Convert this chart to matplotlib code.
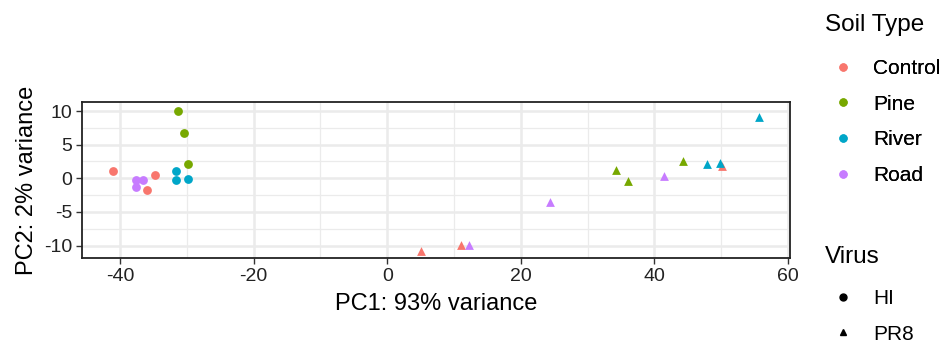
import numpy as np
import pandas as pd
import matplotlib.pyplot as plt
from matplotlib.lines import Line2D

plt.rcParams['font.family'] = ['Liberation Sans', 'DejaVu Sans']
plt.rcParams['axes.unicode_minus'] = False

# PCA scores
soil = ["Control", "Control", "Control", "Pine", "Pine", "Pine",
        "River", "River", "River", "Road", "Road", "Road",
        "Control", "Control", "Control", "Pine", "Pine", "Pine",
        "River", "River", "River", "Road", "Road", "Road"]
virus = ["HI"] * 12 + ["PR8"] * 12
pc1 = [-41.0, -34.8, -36.0, -31.4, -30.4, -29.9,
       -31.7, -31.7, -29.9, -37.6, -36.6, -37.6,
       5.1, 11.0, 50.1, 34.3, 36.1, 44.3,
       47.8, 49.8, 55.6, 12.2, 24.4, 41.4]
pc2 = [1.1, 0.45, -1.8, 9.95, 6.8, 2.1,
       1.1, -0.3, -0.1, -0.3, -0.3, -1.3,
       -10.8, -9.9, 1.8, 1.3, -0.35, 2.6,
       2.1, 2.3, 9.15, -9.9, -3.5, 0.4]

soil_levels = ["Control", "Pine", "River", "Road"]
soil_colors = ["#F8766D", "#77A800", "#00A6C8", "#C77CFF"]
virus_levels = ["HI", "PR8"]
virus_markers = ["o", "^"]

df = pd.DataFrame({"PC1": pc1, "PC2": pc2, "soil": soil, "virus": virus})

fig = plt.figure(figsize=(9.41, 3.46), dpi=100)
ax = fig.add_axes([82 / 941, 1 - 258 / 346, (790 - 82) / 941, (258 - 102) / 346])

for s, col in zip(soil_levels, soil_colors):
    for v, mk in zip(virus_levels, virus_markers):
        sub = df[(df.soil == s) & (df.virus == v)]
        ax.scatter(sub.PC1, sub.PC2, c=col, marker=mk, s=40, linewidths=0, zorder=3)

ax.set_xlim(-45.7, 60.3)
ax.set_ylim(-11.84, 11.34)
ax.set_xticks([-40, -20, 0, 20, 40, 60])
ax.set_xticks(np.arange(-30, 60, 20), minor=True)
ax.set_yticks([-10, -5, 0, 5, 10])
ax.set_yticks([-7.5, -2.5, 2.5, 7.5], minor=True)
ax.grid(True, which='major', color='#EBEBEB', linewidth=1.8, zorder=0)
ax.grid(True, which='minor', color='#EBEBEB', linewidth=0.9, zorder=0)
ax.set_axisbelow(True)
ax.tick_params(which='major', length=4, width=1, color='#333333',
               labelsize=14, labelcolor='#222222', pad=3)
ax.tick_params(which='minor', length=0)
for sp in ax.spines.values():
    sp.set_color('#222222')
    sp.set_linewidth(1.3)

ax.set_xlabel("PC1: 93% variance", fontsize=17, labelpad=6)
ax.set_ylabel("PC2: 2% variance", fontsize=17, labelpad=4)

# legends
fig.text(825 / 941, 1 - 25 / 346, "Soil Type", fontsize=17.5, va='center', ha='left')
soil_handles = [Line2D([], [], marker='o', linestyle='', color=c, markersize=5)
                for c in soil_colors]
leg1 = fig.legend(soil_handles, soil_levels, loc='upper left',
                  bbox_to_anchor=(827 / 941, 1 - 59 / 346), frameon=False,
                  fontsize=15, labelspacing=0.8, borderpad=0, borderaxespad=0,
                  handletextpad=0.7, handlelength=1.5)
fig.add_artist(leg1)

fig.text(825 / 941, 1 - 257 / 346, "Virus", fontsize=17.5, va='center', ha='left')
virus_handles = [Line2D([], [], marker=m, linestyle='', color='black', markersize=5)
                 for m in virus_markers]
fig.legend(virus_handles, virus_levels, loc='upper left',
           bbox_to_anchor=(827 / 941, 1 - 289 / 346), frameon=False,
           fontsize=15, labelspacing=0.8, borderpad=0, borderaxespad=0,
           handletextpad=0.7, handlelength=1.5)

fig.savefig("out.png", dpi=100)
